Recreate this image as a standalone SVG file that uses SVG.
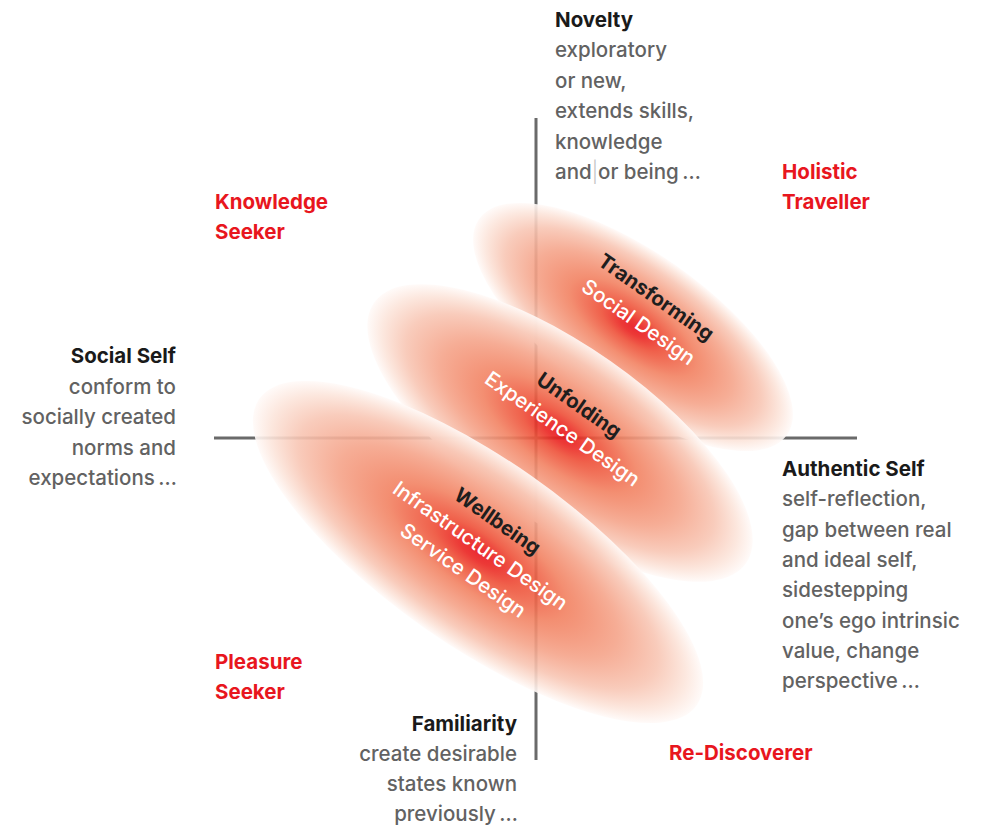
<svg xmlns="http://www.w3.org/2000/svg" width="982" height="825" viewBox="0 0 982 825">
  <style>
    text { font-family: Inter, "Noto Sans", "Liberation Sans", sans-serif; font-size: 20.5px; }
    .head { font-weight: 700; fill: #1a1a1a; }
    .note { font-weight: 500; fill: #626262; }
    .type { font-weight: 700; fill: #e8161e; }
    .stage { font-weight: 700; fill: #1e1e1e; text-anchor: middle; }
    .design { font-weight: 500; fill: #ffffff; text-anchor: middle; }
    .bar { fill: #c4c4c4; font-weight: 300; }
    .axis { stroke: #6a6a6a; stroke-width: 3; fill: none; }
    .blob { fill: url(#glow); opacity: 0.9; }
  </style>
  <defs>
    <radialGradient id="glow" cx="0.5" cy="0.5" r="0.5">
      <stop offset="0" stop-color="#e8131b"/>
      <stop offset="0.08" stop-color="#ea2320"/>
      <stop offset="0.2" stop-color="#ee5038"/>
      <stop offset="0.4" stop-color="#f28262"/>
      <stop offset="0.62" stop-color="#f5a48a"/>
      <stop offset="0.8" stop-color="#f8c6b4"/>
      <stop offset="0.92" stop-color="#fce5db"/>
      <stop offset="1" stop-color="#fffaf8"/>
    </radialGradient>
  </defs>

  <rect width="982" height="825" fill="#ffffff"/>

  <!-- quadrant axes -->
  <g id="axes">
    <line class="axis" x1="536" y1="118" x2="536" y2="760"/>
    <line class="axis" x1="214" y1="438" x2="857" y2="438"/>
  </g>

  <!-- stage clouds, drawn back to front -->
  <g id="transforming">
    <g transform="translate(633 327) rotate(35)">
      <ellipse class="blob" rx="188" ry="75"/>
    </g>
  </g>
  <g id="unfolding">
    <g transform="translate(560 433) rotate(35)">
      <ellipse class="blob" rx="227" ry="88"/>
    </g>
  </g>
  <g id="wellbeing">
    <g transform="translate(478 552) rotate(35)">
      <ellipse class="blob" rx="267" ry="93"/>
    </g>
  </g>

  <!-- stage labels -->
  <g id="transforming-label" transform="translate(652 303) rotate(35)">
    <text class="stage">Transforming</text>
    <text class="design" y="30.5">Social Design</text>
  </g>
  <g id="unfolding-label" transform="translate(575 411) rotate(35)">
    <text class="stage">Unfolding</text>
    <text class="design" y="29">Experience Design</text>
  </g>
  <g id="wellbeing-label" transform="translate(493.5 527) rotate(35)">
    <text class="stage">Wellbeing</text>
    <text class="design" y="30">Infrastructure Design</text>
    <text class="design" y="60">Service Design</text>
  </g>

  <!-- axis poles -->
  <g id="novelty">
    <text class="head" x="555" y="27">Novelty</text>
    <text class="note" x="555" y="57.4">exploratory</text>
    <text class="note" x="555" y="87.8">or new,</text>
    <text class="note" x="555" y="118.2">extends skills,</text>
    <text class="note" x="555" y="148.6">knowledge</text>
    <text class="note" x="555" y="179">and<tspan class="bar">|</tspan>or being&#8201;…</text>
  </g>
  <g id="social-self">
    <text class="head" x="176" y="363" text-anchor="end">Social Self</text>
    <text class="note" x="176" y="393.5" text-anchor="end">conform to</text>
    <text class="note" x="176" y="424" text-anchor="end">socially created</text>
    <text class="note" x="176" y="454.5" text-anchor="end">norms and</text>
    <text class="note" x="177" y="485" text-anchor="end">expectations&#8201;…</text>
  </g>
  <g id="authentic-self">
    <text class="head" x="782" y="476">Authentic Self</text>
    <text class="note" x="782" y="506.3">self-reflection,</text>
    <text class="note" x="782" y="536.6">gap between real</text>
    <text class="note" x="782" y="566.9">and ideal self,</text>
    <text class="note" x="782" y="597.2">sidestepping</text>
    <text class="note" x="782" y="627.5">one’s ego intrinsic</text>
    <text class="note" x="782" y="657.8">value, change</text>
    <text class="note" x="782" y="688">perspective&#8201;…</text>
  </g>
  <g id="familiarity">
    <text class="head" x="517" y="731" text-anchor="end">Familiarity</text>
    <text class="note" x="517" y="761" text-anchor="end">create desirable</text>
    <text class="note" x="517" y="791" text-anchor="end">states known</text>
    <text class="note" x="518" y="821" text-anchor="end">previously&#8201;…</text>
  </g>

  <!-- traveller types -->
  <g id="knowledge-seeker">
    <text class="type" x="215" y="209">Knowledge</text>
    <text class="type" x="215" y="239">Seeker</text>
  </g>
  <g id="holistic-traveller">
    <text class="type" x="782" y="179">Holistic</text>
    <text class="type" x="782" y="209">Traveller</text>
  </g>
  <g id="pleasure-seeker">
    <text class="type" x="215" y="669">Pleasure</text>
    <text class="type" x="215" y="699">Seeker</text>
  </g>
  <g id="re-discoverer">
    <text class="type" x="669" y="760">Re-Discoverer</text>
  </g>
</svg>
